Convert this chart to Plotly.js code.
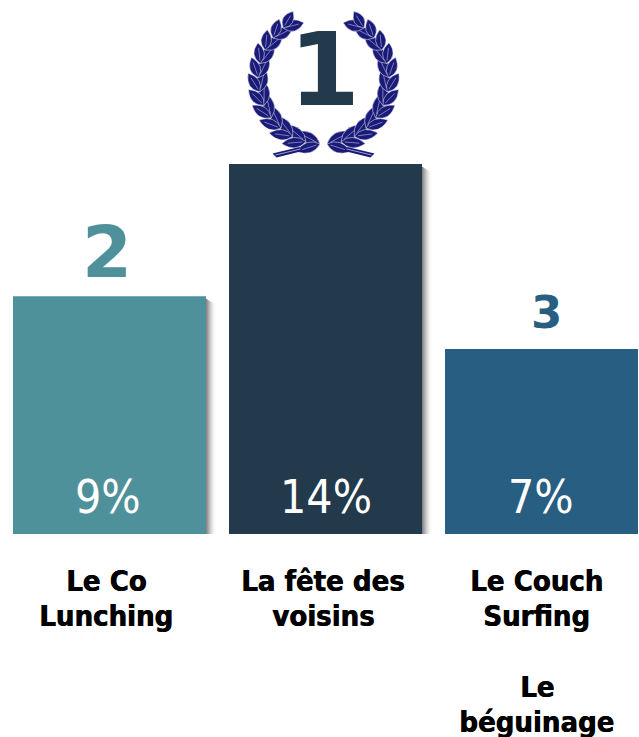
<!DOCTYPE html>
<html><head><meta charset="utf-8">
<script src="https://cdn.plot.ly/plotly-3.0.1.min.js"></script>
<style>html,body{margin:0;padding:0;background:#fff}#c{width:639px;height:737px}</style>
</head><body><div id="c"></div>
<script>
const categoryLines = [["Le Co", "Lunching"], ["La fête des", "voisins"], ["Le Couch", "Surfing"]];
const extraLines = ["Le", "béguinage"];
const values = [9, 14, 7];
const valueLabels = ["9%", "14%", "7%"];
const ranks = ["2", "1", "3"];
const barColors = ["#4f919b", "#223a4b", "#285e82"];
const rankSizes = [72, 102, 45];
const FONT = '"DejaVu Sans Condensed","DejaVu Sans",sans-serif';
const RANKFONT = '"DejaVu Sans",sans-serif';
const W = 639, H = 737;
const px = x => x / W, py = y => 1 - y / H;
const pt = (x, y) => px(x).toFixed(5) + ',' + py(y).toFixed(5);
const shapes = [];

// soft shadows right of the bars
[[206, 296], [422, 164]].forEach(([x0, top]) => {
  const steps = [0.72, 0.62, 0.5, 0.4, 0.3, 0.21, 0.14, 0.08, 0.04, 0.02];
  steps.forEach((a, i) => shapes.push({
    type: 'rect', xref: 'paper', yref: 'paper', layer: 'below', line: {width: 0},
    x0: px(x0 + i), x1: px(x0 + i + 1), y0: py(534), y1: py(top + 3 + i * 0.6),
    fillcolor: `rgba(90,90,90,${a})`
  }));
});

// laurel wreath decoration
const NAVY = '#1a1a78', CX = 323.5, CY = 79, R = 65;
function leaf(bx, by, ang, len, wid) {
  const ux = Math.cos(ang), uy = Math.sin(ang), nx = -uy, ny = ux;
  const tx = bx + ux * len, ty = by + uy * len;
  const mx = bx + ux * len * 0.45, my = by + uy * len * 0.45;
  const d = `M${pt(bx, by)} Q${pt(mx + nx * wid, my + ny * wid)} ${pt(tx, ty)} Q${pt(mx - nx * wid, my - ny * wid)} ${pt(bx, by)} Z`;
  shapes.push({type: 'path', xref: 'paper', yref: 'paper', path: d, fillcolor: NAVY, line: {color: '#ffffff', width: 0.5}});
  const rib = `M${pt(bx + ux * len * .15, by + uy * len * .15)} L${pt(bx + ux * len * .75, by + uy * len * .75)}`;
  shapes.push({type: 'path', xref: 'paper', yref: 'paper', path: rib, line: {color: 'rgba(190,190,225,0.75)', width: 0.8}});
}
[-1, 1].forEach(s => {
  const n = 12;
  for (let i = 0; i < n; i++) {
    const th = (3 + i * 12.6) * Math.PI / 180;
    const bx = CX + s * R * Math.sin(th), by = CY + R * Math.cos(th);
    const tang = Math.atan2(-Math.sin(th), s * Math.cos(th));
    const big = 27 - i * 0.5;
    leaf(bx, by, tang - s * 0.42, big, 11.5);
    leaf(bx, by, tang + s * 0.36, big - 2, 10.5);
  }
  shapes.push({type: 'path', xref: 'paper', yref: 'paper',
    path: `M${pt(CX + s * 24, 147)} L${pt(CX + s * 51, 153.5)} L${pt(CX + s * 47, 157.5)} L${pt(CX + s * 21, 151)} Z`,
    fillcolor: NAVY, line: {width: 0}});
  shapes.push({type: 'path', xref: 'paper', yref: 'paper',
    path: `M${pt(CX + s * 23, 149)} L${pt(CX + s * 48, 155)}`,
    line: {color: 'rgba(190,190,225,0.8)', width: 1}});
});

const annotations = [];
const idx = values.map((_, i) => i);
const labelShift = [-3.5, -3, -5];
const pctShift = [-1.5, 0, -1];
const rankShift = [-3, -1, 4.5];
const rankBase = [17, 57, 19];
const LABEL = {family: FONT, size: 29, color: '#000000', weight: 700, shadow: '0.7px 0 0 #000'};
function addLines(i, lines, firstBelow) {
  lines.forEach((t, k) => annotations.push({x: i, y: 0, xref: 'x', yref: 'y', yanchor: 'middle',
    yshift: -(firstBelow + k * 35), xshift: labelShift[i], text: t, showarrow: false, font: LABEL}));
}
idx.forEach(i => {
  annotations.push({x: i, y: 0, xref: 'x', yref: 'y', yanchor: 'middle', yshift: 37, xshift: pctShift[i],
    text: valueLabels[i], showarrow: false, font: {family: FONT, size: 46, color: '#ffffff'}});
  annotations.push({x: i, y: values[i], xref: 'x', yref: 'y', yanchor: 'bottom', yshift: rankBase[i] - rankSizes[i] * 0.24, xshift: rankShift[i],
    text: ranks[i], showarrow: false, font: {family: RANKFONT, size: rankSizes[i], color: barColors[i], weight: 700}});
  addLines(i, categoryLines[i], 47);
});
addLines(2, extraLines, 153);

Plotly.newPlot('c', [{
  type: 'bar', x: idx, y: values, width: 193 / 216,
  marker: {color: barColors, line: {width: 0}}, hoverinfo: 'skip'
}], {
  width: W, height: H, margin: {l: 0, r: 0, t: 0, b: 0},
  paper_bgcolor: '#fff', plot_bgcolor: 'rgba(0,0,0,0)', showlegend: false,
  xaxis: {range: [-109.5 / 216, 529.5 / 216], showgrid: false, zeroline: false, showticklabels: false, ticks: '', fixedrange: true},
  yaxis: {domain: [203 / 737, 1], range: [0, 534 / 26.43], showgrid: false, zeroline: false, showticklabels: false, ticks: '', fixedrange: true},
  shapes, annotations
}, {displayModeBar: false, staticPlot: true});
</script></body></html>
